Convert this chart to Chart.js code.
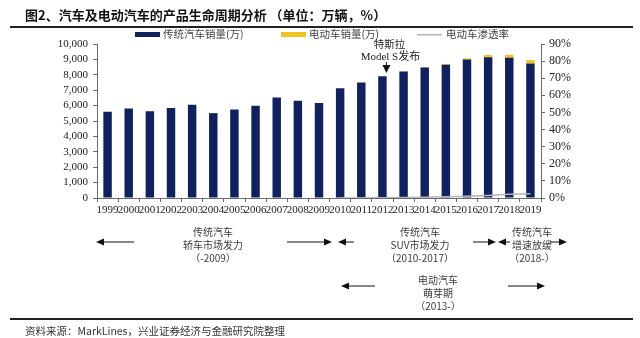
<!DOCTYPE html>
<html>
<head>
<meta charset="utf-8">
<script src="https://cdn.jsdelivr.net/npm/chart.js@4/dist/chart.umd.min.js"></script>
<style>
  html, body { margin: 0; padding: 0; background: #fff; }
  #wrap { width: 640px; height: 338px; position: relative; }
</style>
</head>
<body>
<div id="wrap"><canvas id="chart"></canvas></div>
<script>
// Car vs EV product life cycle: stacked sales bars plus EV penetration line.

const YEARS = ['1999', '2000', '2001', '2002', '2003', '2004', '2005', '2006', '2007', '2008', '2009',
  '2010', '2011', '2012', '2013', '2014', '2015', '2016', '2017', '2018', '2019'];
const ICE_SALES = [5600, 5810, 5640, 5850, 6050, 5510, 5750, 5985, 6530, 6310, 6170,
  7120, 7500, 7900, 8220, 8470, 8650, 8990, 9135, 9100, 8740];
const EV_SALES = [0, 0, 0, 0, 0, 0, 0, 0, 0, 0, 0,
  1, 5, 12, 20, 32, 55, 80, 150, 200, 220];
const EV_SHARE = [null, null, null, null, null, null, null, null, null, null, null,
  0.01, 0.06, 0.15, 0.25, 0.4, 0.7, 1.0, 1.5, 2.2, 2.5];
const LEFT_TICKS = { min: 0, max: 10000, step: 1000 };
const RIGHT_TICKS = { min: 0, max: 90, step: 10 };

const NAVY = '#10215e';
const GOLD = '#f3c324';
const GREY = '#b4b4b4';
const AXIS = '#6a6a6a';
const SERIF = "'Liberation Serif', 'Times New Roman', serif";
const CJK = "'Noto Sans CJK SC', sans-serif";

function arrow(ctx, x1, x2, y) {
  // line from x1 to x2, filled head at x2
  const dir = Math.sign(x2 - x1);
  ctx.beginPath();
  ctx.moveTo(x1, y);
  ctx.lineTo(x2 - dir * 6, y);
  ctx.stroke();
  ctx.beginPath();
  ctx.moveTo(x2, y);
  ctx.lineTo(x2 - dir * 8, y - 3.5);
  ctx.lineTo(x2 - dir * 8, y + 3.5);
  ctx.closePath();
  ctx.fill();
}

function lines(ctx, x, y0, rows) {
  rows.forEach((t, i) => ctx.fillText(t, x, y0 + i * 13));
}

const decor = {
  id: 'decor',
  afterDraw(chart) {
    const ctx = chart.ctx;
    const ds = chart.data.datasets;
    ctx.save();

    // title and rules
    ctx.fillStyle = '#111';
    ctx.font = 'bold 13px ' + CJK;
    ctx.textBaseline = 'middle';
    ctx.textAlign = 'left';
    ctx.fillText('图2、汽车及电动汽车的产品生命周期分析 （单位：万辆，%）', 25, 15);
    ctx.fillStyle = '#222';
    ctx.fillRect(10, 26, 623, 2);
    ctx.fillRect(10, 318, 623, 2);

    // legend
    ctx.font = '10.5px ' + CJK;
    ctx.fillStyle = ds[0].backgroundColor;
    ctx.fillRect(135, 32, 25, 5);
    ctx.fillStyle = ds[1].backgroundColor;
    ctx.fillRect(281, 32, 25, 5);
    ctx.fillStyle = ds[2].borderColor;
    ctx.fillRect(417, 34, 25, 1.5);
    ctx.fillStyle = '#444';
    ctx.fillText(ds[0].label, 163, 34);
    ctx.fillText(ds[1].label, 309, 34);
    ctx.fillText(ds[2].label, 446, 34);

    // Tesla Model S marker over 2012
    const xs = chart.scales.x;
    const tx = xs.getPixelForValue(YEARS.indexOf('2012')) + 4;
    ctx.textAlign = 'center';
    ctx.fillStyle = '#222';
    ctx.font = '10.5px ' + CJK;
    ctx.fillText('特斯拉', tx + 3, 44);
    ctx.font = "11px 'Liberation Serif', 'Noto Sans CJK SC'";
    ctx.fillText('Model S发布', tx + 4, 57);
    ctx.strokeStyle = '#111';
    ctx.fillStyle = '#111';
    ctx.lineWidth = 1;
    ctx.beginPath();
    ctx.moveTo(tx, 62);
    ctx.lineTo(tx, 68);
    ctx.stroke();
    ctx.beginPath();
    ctx.moveTo(tx - 4, 65);
    ctx.lineTo(tx + 4, 65);
    ctx.lineTo(tx, 73);
    ctx.closePath();
    ctx.fill();

    // life-cycle stages below the axis
    ctx.font = '10px ' + CJK;
    ctx.fillStyle = '#3c3c3c';
    lines(ctx, 213, 232, ['传统汽车', '轿车市场发力', '（-2009）']);
    lines(ctx, 420, 232, ['传统汽车', 'SUV市场发力', '（2010-2017）']);
    lines(ctx, 532, 232, ['传统汽车', '增速放缓', '（2018-）']);
    lines(ctx, 438, 280, ['电动汽车', '萌芽期', '（2013-）']);

    ctx.strokeStyle = '#111';
    ctx.fillStyle = '#111';
    arrow(ctx, 134, 96, 242);
    arrow(ctx, 287, 332, 242);
    arrow(ctx, 354, 338, 242);
    arrow(ctx, 473, 496, 242);
    arrow(ctx, 510, 498, 242);
    arrow(ctx, 550, 567, 242);
    arrow(ctx, 375, 341, 286);
    arrow(ctx, 508, 545, 286);

    // source line
    ctx.textAlign = 'left';
    ctx.font = '10.5px ' + CJK;
    ctx.fillStyle = '#333';
    ctx.fillText('资料来源：MarkLines，兴业证券经济与金融研究院整理', 25, 331);
    ctx.restore();
  },
};

const axisGrid = { display: true, drawOnChartArea: false, drawTicks: true, tickLength: 4, color: AXIS };

new Chart(document.getElementById('chart'), {
  type: 'bar',
  data: {
    labels: YEARS,
    datasets: [
      { label: '传统汽车销量(万)', data: ICE_SALES, backgroundColor: NAVY,
        barPercentage: 0.4, categoryPercentage: 1, stack: 'sales', order: 2 },
      { label: '电动车销量(万)', data: EV_SALES, backgroundColor: GOLD,
        barPercentage: 0.4, categoryPercentage: 1, stack: 'sales', order: 2 },
      { type: 'line', label: '电动车渗透率', data: EV_SHARE, yAxisID: 'y1',
        borderColor: GREY, borderWidth: 1.5, pointRadius: 0, tension: 0, order: 1 },
    ],
  },
  options: {
    responsive: true,
    maintainAspectRatio: false,
    animation: false,
    layout: { padding: { top: 44, left: 0, right: 0, bottom: 0 } },
    plugins: { legend: { display: false }, tooltip: { enabled: false } },
    scales: {
      x: {
        stacked: true,
        offset: true,
        grid: { ...axisGrid, offset: true },
        border: { color: AXIS },
        ticks: { autoSkip: false, maxRotation: 0, padding: 2, color: '#222',
          font: { family: SERIF, size: 11 } },
        afterFit: (s) => { s.height = 140; },
      },
      y: {
        position: 'left',
        stacked: true,
        min: LEFT_TICKS.min,
        max: LEFT_TICKS.max,
        grid: axisGrid,
        border: { color: AXIS },
        ticks: { stepSize: LEFT_TICKS.step, autoSkip: false, padding: 5, color: '#222',
          font: { family: SERIF, size: 11 },
          callback: (v) => v.toLocaleString('en-US') },
        afterFit: (s) => { s.width = 97; },
      },
      y1: {
        position: 'right',
        min: RIGHT_TICKS.min,
        max: RIGHT_TICKS.max,
        grid: axisGrid,
        border: { color: AXIS },
        ticks: { stepSize: RIGHT_TICKS.step, autoSkip: false, padding: 4, color: '#222',
          font: { family: SERIF, size: 12 },
          callback: (v) => v + '%' },
        afterFit: (s) => { s.width = 99; },
      },
    },
  },
  plugins: [decor],
});
</script>
</body>
</html>
